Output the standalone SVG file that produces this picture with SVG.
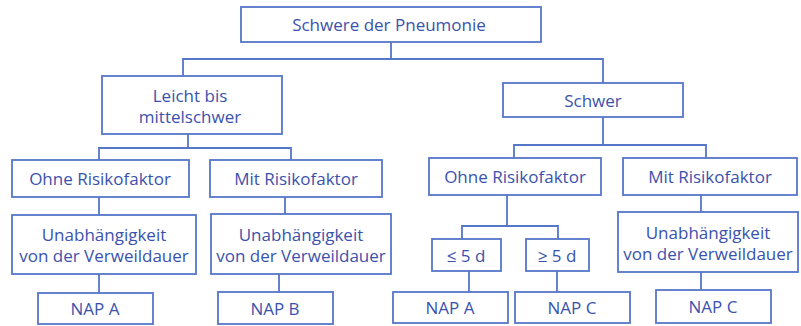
<svg xmlns="http://www.w3.org/2000/svg" width="801" height="326" viewBox="0 0 801 326">
<style>
.b{fill:#fff;stroke:#5577c8;stroke-width:1.8}
.c{fill:none;stroke:#5577c8;stroke-width:1.8}
text{font-family:"Open Sans","Noto Sans",sans-serif;font-size:17px;fill:#3a52ad;text-anchor:middle}
</style>
<rect width="801" height="326" fill="#fff"/>
<g id="connectors">
<path class="c" d="M391 42V59M183 76V59H603V83"/>
<path class="c" d="M188 134V148M99 160V148H291V160"/>
<path class="c" d="M603 117V145M514 158V145H706V158"/>
<path class="c" d="M99 197V215M99 274V293"/>
<path class="c" d="M285 197V214M279 274V292"/>
<path class="c" d="M507 195V226M462 239V226H558V239"/>
<path class="c" d="M469 271V292M557 271V292"/>
<path class="c" d="M701 195V212M701 272V290"/>
</g>
<g id="n-root"><rect class="b" x="241" y="7" width="300" height="35"/><text x="389" y="31">Schwere der Pneumonie</text></g>
<g id="n-leicht"><rect class="b" x="102" y="76" width="180" height="58"/><text x="190" y="102">Leicht bis</text><text x="190" y="123">mittelschwer</text></g>
<g id="n-schwer"><rect class="b" x="503" y="83" width="180" height="34"/><text x="593" y="107">Schwer</text></g>
<g id="n-ohne1"><rect class="b" x="12" y="160" width="177" height="37"/><text x="100" y="185">Ohne Risikofaktor</text></g>
<g id="n-mit1"><rect class="b" x="210" y="160" width="172" height="37"/><text x="296" y="185">Mit Risikofaktor</text></g>
<g id="n-ohne2"><rect class="b" x="429" y="158" width="172" height="37"/><text x="515" y="183">Ohne Risikofaktor</text></g>
<g id="n-mit2"><rect class="b" x="623" y="158" width="174" height="37"/><text x="710" y="183">Mit Risikofaktor</text></g>
<g id="n-unab1"><rect class="b" x="12" y="215" width="184" height="59"/><text x="104" y="241">Unabhängigkeit</text><text x="104" y="262">von der Verweildauer</text></g>
<g id="n-unab2"><rect class="b" x="211" y="214" width="180" height="60"/><text x="301" y="241">Unabhängigkeit</text><text x="301" y="262">von der Verweildauer</text></g>
<g id="n-unab3"><rect class="b" x="618" y="212" width="180" height="60"/><text x="708" y="239">Unabhängigkeit</text><text x="708" y="260">von der Verweildauer</text></g>
<g id="n-le5"><rect class="b" x="432" y="239" width="69" height="32"/><text x="466" y="262">≤ 5 d</text></g>
<g id="n-ge5"><rect class="b" x="526" y="239" width="63" height="32"/><text x="557" y="262">≥ 5 d</text></g>
<g id="n-napa1"><rect class="b" x="38" y="293" width="115" height="31"/><text x="95" y="315">NAP A</text></g>
<g id="n-napb"><rect class="b" x="218" y="292" width="115" height="32"/><text x="275" y="315">NAP B</text></g>
<g id="n-napa2"><rect class="b" x="393" y="292" width="115" height="31"/><text x="450" y="314">NAP A</text></g>
<g id="n-napc1"><rect class="b" x="515" y="292" width="115" height="31"/><text x="572" y="314">NAP C</text></g>
<g id="n-napc2"><rect class="b" x="656" y="290" width="115" height="33"/><text x="713" y="313">NAP C</text></g>
</svg>
